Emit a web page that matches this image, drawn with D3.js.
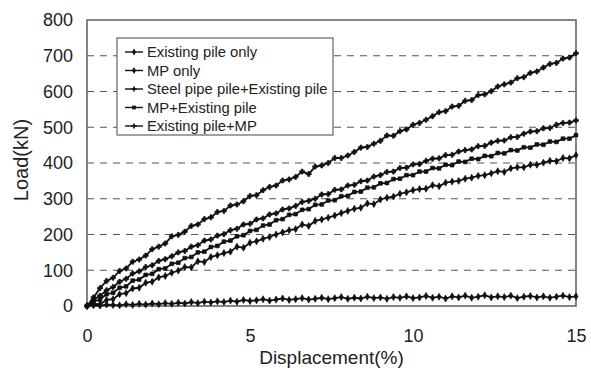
<!DOCTYPE html>
<html>
<head>
<meta charset="utf-8">
<script src="https://cdn.jsdelivr.net/npm/d3@7"></script>
<style>
  body { margin: 0; background: #fff; }
  svg { display: block; }
  text { font-family: "Liberation Sans", Arial, sans-serif; fill: #222; }
</style>
</head>
<body>
<svg id="chart" width="591" height="372"></svg>
<script>
// Displacement (%) at each reading, shared by all test cases
const disp = [
  0, 0.2, 0.4, 0.6, 0.8, 1.0, 1.2, 1.4, 1.6, 1.8,
  2.0, 2.2, 2.4, 2.6, 2.8, 3.0, 3.2, 3.4, 3.6, 3.8,
  4.0, 4.2, 4.4, 4.6, 4.8, 5.0, 5.2, 5.4, 5.6, 5.8,
  6.0, 6.2, 6.4, 6.6, 6.8, 7.0, 7.2, 7.4, 7.6, 7.8,
  8.0, 8.2, 8.4, 8.6, 8.8, 9.0, 9.2, 9.4, 9.6, 9.8,
  10.0, 10.2, 10.4, 10.6, 10.8, 11.0, 11.2, 11.4, 11.6, 11.8,
  12.0, 12.2, 12.4, 12.6, 12.8, 13.0, 13.2, 13.4, 13.6, 13.8,
  14.0, 14.2, 14.4, 14.6, 14.8, 15.0
];

// Load (kN) for each case
const existingPileOnly = [
  0, 2, 1, 4, 3, 2, 5, 3, 6, 4,
  7, 5, 8, 6, 9, 7, 11, 8, 12, 10,
  13, 11, 15, 12, 17, 14, 16, 19, 15, 18,
  21, 17, 19, 22, 18, 20, 23, 19, 22, 25,
  20, 23, 21, 26, 22, 24, 20, 25, 23, 27,
  22, 24, 28, 23, 26, 21, 27, 24, 29, 23,
  26, 30, 24, 27, 25, 29, 22, 26, 28, 24,
  27, 23, 26, 29, 25, 27
];
const mpOnly = [
  0, 6, 5, 17, 19, 33, 36, 49, 51, 65,
  68, 80, 84, 93, 99, 109, 108, 125, 123, 137,
  142, 148, 152, 166, 163, 177, 181, 188, 193, 200,
  206, 212, 215, 228, 224, 238, 242, 247, 253, 260,
  266, 272, 275, 287, 285, 298, 303, 306, 314, 318,
  324, 327, 328, 338, 335, 345, 348, 350, 356, 359,
  364, 366, 371, 377, 375, 385, 388, 388, 395, 395,
  401, 406, 405, 414, 413, 422
];
const steelPipeExisting = [
  0, 24, 50, 70, 79, 98, 105, 124, 130, 141,
  159, 166, 175, 195, 199, 208, 224, 228, 243, 248,
  263, 266, 281, 284, 293, 308, 310, 324, 333, 337,
  351, 354, 361, 376, 369, 390, 393, 400, 414, 414,
  421, 431, 443, 445, 454, 462, 477, 476, 489, 494,
  507, 512, 521, 531, 542, 545, 558, 560, 574, 576,
  590, 592, 601, 614, 620, 625, 637, 640, 652, 656,
  667, 677, 680, 692, 695, 707
];
const mpExisting = [
  0, 12, 18, 33, 37, 51, 55, 71, 74, 87,
  90, 103, 105, 118, 121, 134, 137, 150, 152, 165,
  168, 180, 183, 195, 198, 210, 213, 225, 228, 240,
  243, 255, 257, 269, 271, 283, 284, 295, 296, 307,
  308, 319, 320, 331, 332, 343, 344, 355, 356, 366,
  366, 376, 376, 386, 385, 395, 394, 404, 403, 412,
  411, 420, 419, 428, 427, 436, 435, 444, 443, 452,
  451, 460, 459, 468, 468, 478
];
const existingMp = [
  0, 17, 29, 44, 53, 68, 76, 91, 97, 109,
  114, 126, 131, 139, 150, 154, 166, 170, 183, 186,
  197, 201, 212, 216, 228, 230, 242, 245, 256, 259,
  270, 273, 280, 291, 294, 300, 312, 313, 325, 326,
  337, 339, 349, 351, 362, 366, 375, 376, 386, 387,
  396, 397, 406, 412, 413, 422, 423, 432, 436, 438,
  447, 448, 457, 462, 463, 472, 473, 482, 488, 489,
  497, 498, 507, 512, 513, 519
];

const seriesNames = [
  "Existing pile only",
  "MP only",
  "Steel pipe pile+Existing pile",
  "MP+Existing pile",
  "Existing pile+MP"
];
const seriesValues = [existingPileOnly, mpOnly, steelPipeExisting, mpExisting, existingMp];
const seriesSymbols = [d3.symbolDiamond, d3.symbolDiamond, d3.symbolCross, d3.symbolSquare, d3.symbolCross];

const xTicks = [0, 5, 10, 15];
const yTicks = [0, 100, 200, 300, 400, 500, 600, 700, 800];
const gridValues = [100, 200, 300, 400, 500, 600, 700];

const svg = d3.select("#chart");
const x = d3.scaleLinear().domain([0, 15]).range([87, 576]);
const y = d3.scaleLinear().domain([0, 800]).range([306, 20]);

// dashed horizontal gridlines
svg.append("g").selectAll("line").data(gridValues).join("line")
  .attr("x1", x(0)).attr("x2", x(15))
  .attr("y1", d => y(d)).attr("y2", d => y(d))
  .attr("stroke", "#555").attr("stroke-width", 1)
  .attr("stroke-dasharray", "7,6");

// y axis labels
const yAxis = svg.append("g").attr("transform", `translate(${x(0)},0)`)
  .call(d3.axisLeft(y).tickValues(yTicks).tickSize(0).tickPadding(14).tickFormat(d3.format("d")));
yAxis.select(".domain").remove();
yAxis.selectAll("text").attr("font-size", 18).style("fill", "#222")
  .attr("font-family", "'Liberation Sans', Arial, sans-serif");

// x axis labels
const xAxis = svg.append("g").attr("transform", `translate(0,${y(0)})`)
  .call(d3.axisBottom(x).tickValues(xTicks).tickSize(0).tickPadding(23).tickFormat(d3.format("d")));
xAxis.select(".domain").remove();
xAxis.selectAll("text").attr("font-size", 18).style("fill", "#222")
  .attr("font-family", "'Liberation Sans', Arial, sans-serif");

// plot frame
svg.append("rect")
  .attr("x", x(0)).attr("y", y(800))
  .attr("width", x(15) - x(0)).attr("height", y(0) - y(800))
  .attr("fill", "none").attr("stroke", "#666").attr("stroke-width", 1.6);

// axis titles
svg.append("text")
  .attr("x", (x(0) + x(15)) / 2).attr("y", 364)
  .attr("text-anchor", "middle").attr("font-size", 19)
  .text("Displacement(%)");
svg.append("text")
  .attr("transform", "translate(28,160) rotate(-90)")
  .attr("text-anchor", "middle").attr("font-size", 20)
  .text("Load(kN)");

// load-displacement curves
const line = d3.line().x(d => x(d[0])).y(d => y(d[1]));
const plot = svg.append("g");
seriesValues.forEach((vals, k) => {
  const pts = disp.map((d, i) => [d, vals[i]]);
  plot.append("path").datum(pts)
    .attr("fill", "none").attr("stroke", "#111").attr("stroke-width", 1.8)
    .attr("d", line);
  plot.append("g").selectAll("path").data(pts).join("path")
    .attr("transform", d => `translate(${x(d[0])},${y(d[1])})`)
    .attr("d", d3.symbol().type(seriesSymbols[k]).size(14))
    .attr("fill", "#111").attr("stroke", "#111").attr("stroke-width", 0.7);
});

// legend
const legend = svg.append("g");
legend.append("rect")
  .attr("x", 117).attr("y", 38).attr("width", 216).attr("height", 97)
  .attr("fill", "#fff").attr("stroke", "#444").attr("stroke-width", 1);
seriesNames.forEach((name, k) => {
  const ly = 52 + k * 18.5;
  legend.append("line").attr("x1", 125).attr("x2", 143).attr("y1", ly).attr("y2", ly)
    .attr("stroke", "#111").attr("stroke-width", 1.4);
  legend.append("path").attr("transform", `translate(134,${ly})`)
    .attr("d", d3.symbol().type(seriesSymbols[k]).size(14)).attr("fill", "#111");
  legend.append("text").attr("x", 147).attr("y", ly).attr("dy", "0.35em")
    .attr("font-size", 14.8).text(name);
});
</script>
</body>
</html>
